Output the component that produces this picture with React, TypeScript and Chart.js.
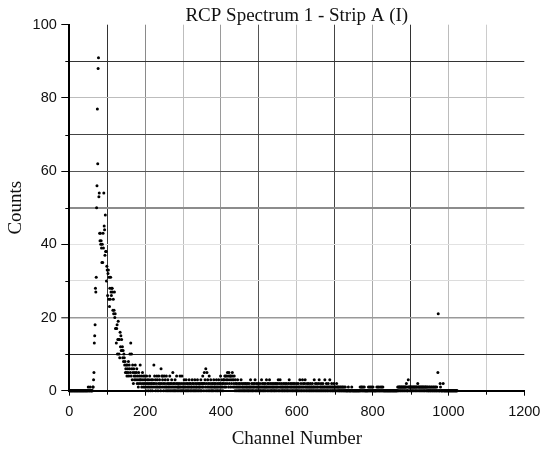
import { useEffect, useRef } from 'react';
import { Chart, registerables } from 'chart.js';

Chart.register(...registerables);

const titleText = 'RCP Spectrum 1 - Strip A (I)';
const xTitle = 'Channel Number';
const yTitle = 'Counts';

const xMajorTicks = [0, 200, 400, 600, 800, 1000, 1200];
const xMinorTicks = [100, 300, 500, 700, 900, 1100];
const yMajorTicks = [0, 20, 40, 60, 80, 100];
const yMinorTicks = [10, 30, 50, 70, 90];

const xGridColors: Record<number, string> = {
  100: '#333', 200: '#8a8a8a', 300: '#bdbdbd', 400: '#9a9a9a', 500: '#555',
  600: '#c4c4c4', 700: '#444', 800: '#a8a8a8', 900: '#333', 1000: '#bcbcbc', 1100: '#cccccc',
};
const yGridColors: Record<number, string> = {
  10: '#222', 20: '#999', 30: '#dcdcdc', 40: '#e2e2e2', 50: '#8c8c8c',
  60: '#555', 70: '#444', 80: '#bdbdbd', 90: '#333',
};
const yGridWidths: Record<number, number> = { 20: 1.6, 50: 2 };

// counts per channel, channel = index (0..1023)
const counts0to255 = [
  0, 0, 0, 0, 0, 0, 0, 0, 0, 0, 0, 0, 0, 0, 0, 0, 0, 0, 0, 0, 0, 0, 0, 0, 0, 0, 0, 0, 0, 0, 0, 0,
  0, 0, 0, 0, 0, 0, 0, 0, 0, 0, 0, 0, 0, 0, 0, 0, 0, 0, 1, 0, 0, 0, 0, 1, 0, 0, 0, 0, 0, 0, 1, 1,
  3, 5, 13, 15, 18, 28, 27, 31, 50, 56, 77, 62, 88, 91, 53, 54, 43, 41, 43, 40, 41, 39, 35, 40, 35, 43, 39, 54, 45, 44, 37, 48,
  38, 38, 30, 34, 33, 26, 32, 33, 25, 31, 23, 28, 25, 31, 27, 26, 28, 28, 27, 22, 25, 21, 22, 27, 20, 21, 17, 17, 13, 17, 18, 10,
  14, 19, 14, 10, 14, 9, 16, 12, 15, 11, 14, 11, 12, 9, 11, 8, 10, 9, 7, 8, 5, 6, 7, 5, 4, 7, 6, 5, 8, 4, 7, 6,
  10, 5, 13, 4, 10, 6, 3, 7, 5, 2, 6, 4, 3, 5, 7, 4, 3, 5, 6, 2, 4, 3, 1, 5, 2, 4, 3, 7, 3, 2, 4, 1,
  3, 5, 2, 4, 1, 3, 2, 4, 1, 3, 0, 2, 4, 1, 3, 2, 0, 1, 3, 2, 4, 1, 0, 2, 3, 1, 2, 0, 3, 1, 2, 7,
  2, 4, 1, 3, 0, 2, 1, 4, 3, 1, 0, 2, 4, 1, 3, 2, 1, 0, 6, 2, 4, 1, 3, 4, 2, 0, 1, 4, 2, 3, 1, 0,
];
const counts256to511 = [
  4, 1, 2, 0, 3, 1, 2, 0, 1, 4, 2, 0, 1, 2, 3, 0, 1, 5, 2, 0, 1, 2, 0, 3, 1, 0, 2, 4, 1, 0, 2, 1,
  1, 0, 2, 1, 4, 0, 1, 2, 0, 4, 1, 0, 2, 1, 0, 3, 1, 2, 0, 1, 3, 0, 2, 1, 0, 2, 1, 0, 3, 1, 2, 0,
  2, 1, 0, 1, 3, 2, 0, 1, 2, 0, 1, 3, 0, 2, 1, 0, 1, 2, 3, 0, 1, 2, 0, 1, 2, 1, 0, 3, 2, 0, 1, 2,
  4, 1, 2, 0, 5, 2, 3, 1, 6, 0, 2, 5, 1, 3, 0, 2, 1, 4, 0, 2, 1, 3, 0, 1, 2, 0, 1, 2, 0, 3, 1, 2,
  1, 0, 2, 1, 3, 0, 1, 2, 0, 1, 3, 2, 0, 1, 2, 4, 0, 1, 3, 2, 1, 0, 2, 3, 3, 1, 4, 2, 4, 1, 3, 4,
  2, 5, 3, 4, 1, 5, 2, 4, 3, 4, 1, 4, 2, 3, 5, 4, 1, 3, 2, 4, 1, 0, 3, 2, 1, 0, 2, 1, 3, 0, 1, 2,
  0, 1, 2, 0, 1, 3, 0, 2, 1, 0, 1, 2, 0, 1, 0, 2, 1, 0, 2, 1, 0, 1, 2, 0, 1, 0, 2, 1, 0, 1, 3, 0,
  1, 2, 0, 1, 0, 2, 1, 0, 1, 2, 3, 0, 1, 0, 2, 1, 0, 1, 2, 0, 1, 0, 1, 2, 0, 1, 0, 3, 1, 2, 0, 1,
];
const counts512to767 = [
  0, 2, 1, 0, 1, 2, 0, 1, 3, 1, 0, 2, 1, 0, 2, 1, 3, 0, 1, 2, 0, 1, 0, 2, 1, 0, 1, 2, 0, 1, 0, 2,
  1, 0, 2, 1, 0, 1, 2, 3, 0, 1, 0, 2, 3, 1, 0, 1, 2, 0, 1, 0, 1, 2, 0, 1, 0, 2, 1, 0, 1, 2, 0, 1,
  0, 1, 2, 0, 3, 1, 0, 2, 1, 0, 1, 2, 0, 1, 0, 2, 1, 0, 1, 2, 0, 1, 0, 1, 2, 0, 1, 0, 2, 1, 0, 1,
  3, 0, 1, 2, 0, 1, 0, 3, 1, 2, 0, 1, 0, 2, 3, 1, 0, 1, 0, 2, 1, 0, 1, 2, 0, 1, 0, 1, 2, 0, 1, 0,
  1, 2, 0, 1, 0, 1, 3, 0, 1, 2, 0, 1, 0, 2, 1, 0, 1, 0, 2, 3, 0, 1, 0, 1, 2, 0, 1, 0, 1, 2, 0, 1,
  0, 1, 3, 0, 1, 0, 2, 1, 0, 1, 0, 2, 1, 0, 1, 3, 0, 1, 0, 1, 2, 0, 1, 0, 1, 0, 2, 1, 0, 1, 0, 1,
  0, 2, 1, 0, 1, 0, 1, 0, 1, 0, 0, 1, 0, 1, 0, 0, 1, 0, 1, 0, 0, 1, 0, 0, 1, 0, 0, 0, 0, 0, 0, 0,
  1, 0, 0, 0, 0, 0, 0, 0, 0, 1, 0, 0, 0, 0, 0, 0, 0, 0, 0, 0, 0, 0, 0, 0, 0, 0, 0, 0, 0, 0, 0, 1,
];
const counts768to1023 = [
  0, 0, 1, 0, 1, 0, 0, 1, 0, 0, 1, 0, 0, 0, 0, 0, 0, 0, 0, 0, 0, 1, 0, 0, 1, 0, 0, 1, 0, 0, 1, 0,
  0, 1, 0, 0, 0, 0, 0, 0, 0, 0, 0, 1, 0, 0, 1, 0, 0, 1, 0, 0, 0, 1, 0, 0, 1, 0, 0, 1, 0, 0, 0, 0,
  0, 0, 0, 0, 0, 0, 0, 0, 0, 0, 0, 0, 0, 0, 0, 0, 0, 0, 0, 0, 0, 0, 0, 0, 0, 0, 0, 0, 0, 0, 0, 0,
  0, 0, 1, 0, 1, 0, 1, 1, 0, 1, 0, 1, 1, 0, 1, 0, 1, 1, 0, 1, 0, 1, 1, 0, 1, 2, 0, 1, 0, 0, 3, 1,
  1, 0, 1, 1, 0, 1, 0, 1, 1, 0, 1, 0, 1, 1, 0, 1, 1, 0, 1, 0, 1, 1, 0, 2, 1, 0, 1, 1, 0, 1, 0, 1,
  1, 0, 1, 0, 1, 1, 0, 1, 0, 1, 0, 1, 1, 0, 1, 0, 1, 0, 1, 0, 0, 1, 0, 1, 0, 0, 1, 0, 1, 0, 0, 1,
  0, 1, 0, 0, 1, 0, 1, 0, 0, 1, 0, 0, 5, 21, 0, 0, 0, 0, 2, 1, 0, 0, 0, 0, 0, 0, 2, 0, 0, 0, 0, 0,
  0, 0, 0, 0, 0, 0, 0, 0, 0, 0, 0, 0, 0, 0, 0, 0, 0, 0, 0, 0, 0, 0, 0, 0, 0, 0, 0, 0, 0, 0, 0, 0,
];

const counts = [...counts0to255, ...counts256to511, ...counts512to767, ...counts768to1023];

const serif = '"Liberation Serif", "Times New Roman", serif';
const sans = '"Liberation Sans", Arial, sans-serif';
const TRANSPARENT = 'rgba(0,0,0,0)';

const decorPlugin = {
  id: 'decor',
  afterDraw(chart: any) {
    const { ctx, chartArea, scales } = chart;
    ctx.save();
    ctx.strokeStyle = '#000';
    ctx.lineWidth = 1;
    xMinorTicks.forEach((v) => {
      const px = Math.round(scales.x.getPixelForValue(v)) + 0.5;
      ctx.beginPath();
      ctx.moveTo(px, chartArea.bottom);
      ctx.lineTo(px, chartArea.bottom + 4);
      ctx.stroke();
    });
    yMinorTicks.forEach((v) => {
      const py = Math.round(scales.y.getPixelForValue(v)) + 0.5;
      ctx.beginPath();
      ctx.moveTo(chartArea.left - 4, py);
      ctx.lineTo(chartArea.left, py);
      ctx.stroke();
    });
    ctx.font = `19px ${serif}`;
    ctx.fillStyle = '#111';
    ctx.textAlign = 'center';
    ctx.textBaseline = 'alphabetic';
    ctx.fillText(titleText, (chartArea.left + chartArea.right) / 2, 20.7);
    ctx.restore();
  },
};

export default function App() {
  const canvasRef = useRef<HTMLCanvasElement | null>(null);

  useEffect(() => {
    if (!canvasRef.current) return;
    const points = counts.map((c, i) => ({ x: i, y: c }));
    const chart = new Chart(canvasRef.current, {
      type: 'scatter',
      data: {
        datasets: [
          {
            data: points,
            pointRadius: 1.5,
            pointHoverRadius: 1.5,
            pointBackgroundColor: '#000',
            pointBorderWidth: 0,
            showLine: false,
            clip: false as any,
          },
        ],
      },
      options: {
        animation: false,
        responsive: false,
        devicePixelRatio: 1,
        layout: { padding: { top: 24.7, right: 19.7, left: 0, bottom: 0 } },
        plugins: {
          legend: { display: false },
          tooltip: { enabled: false },
          title: { display: false },
        },
        scales: {
          x: {
            type: 'linear',
            min: 0,
            max: 1200,
            afterFit: (s: any) => {
              s.height = 61.3;
              s.paddingLeft = 0;
              s.paddingRight = 0;
            },
            ticks: {
              stepSize: 100,
              autoSkip: false,
              maxRotation: 0,
              padding: 8,
              color: '#111',
              font: { family: sans, size: 14.5 },
              callback: (v: any) => (xMajorTicks.includes(Number(v)) ? String(v) : ''),
            },
            grid: {
              color: (c: any) => xGridColors[c.tick?.value] ?? TRANSPARENT,
              lineWidth: 1,
              tickColor: (c: any) => (xMajorTicks.includes(c.tick?.value) ? '#000' : TRANSPARENT),
              tickLength: 5,
              tickWidth: 1,
            },
            border: { color: '#000', width: 2 },
            title: {
              display: true,
              text: xTitle,
              color: '#111',
              font: { family: serif, size: 19 },
              padding: { top: 0, bottom: 2 },
            },
          },
          y: {
            type: 'linear',
            min: 0,
            max: 100,
            afterFit: (s: any) => {
              s.width = 69.3;
              s.paddingTop = 0;
              s.paddingBottom = 0;
            },
            ticks: {
              stepSize: 10,
              autoSkip: false,
              padding: 4.5,
              color: '#111',
              font: { family: sans, size: 14.5 },
              callback: (v: any) => (yMajorTicks.includes(Number(v)) ? String(v) : ''),
            },
            grid: {
              color: (c: any) => yGridColors[c.tick?.value] ?? TRANSPARENT,
              lineWidth: (c: any) => yGridWidths[c.tick?.value] ?? 1,
              tickColor: (c: any) => (yMajorTicks.includes(c.tick?.value) ? '#000' : TRANSPARENT),
              tickLength: 8,
              tickWidth: 1,
            },
            border: { color: '#000', width: 2 },
            title: {
              display: true,
              text: yTitle,
              color: '#111',
              font: { family: serif, size: 19 },
              padding: { top: 5, bottom: 0 },
            },
          },
        },
      },
      plugins: [decorPlugin],
    });
    return () => chart.destroy();
  }, []);

  return (
    <div style={{ position: 'fixed', left: 0, top: 0, width: 544, height: 452, background: '#fff' }}>
      <canvas ref={canvasRef} width={544} height={452} />
    </div>
  );
}
